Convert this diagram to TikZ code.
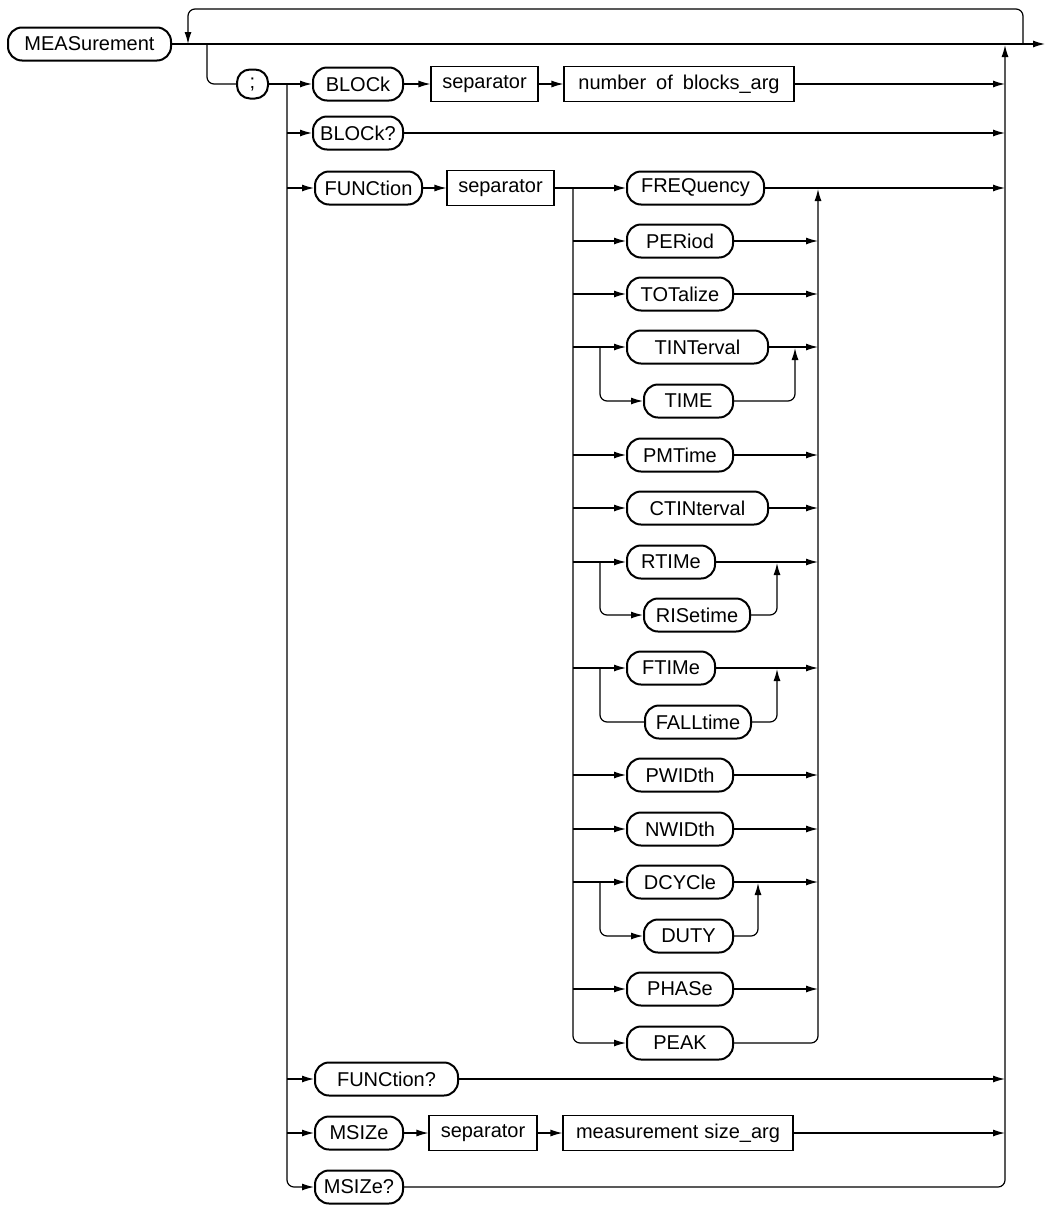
\documentclass[tikz,border=0pt]{standalone}
\usepackage{fontspec}
\setmainfont{Liberation Sans}
\usetikzlibrary{arrows.meta}
\begin{document}
\begin{tikzpicture}[x=1pt,y=-1pt,
  font=\fontsize{20}{22}\selectfont,
  rnd/.style={draw, line width=2pt, rounded corners=14pt, minimum height=33pt, inner sep=0pt},
  rct/.style={draw, line width=1.1pt, minimum height=35pt, inner sep=0pt},
  conn/.style={line width=1.2pt},
  arr/.style={conn, -{Latex[length=12pt,width=7pt]}},
  rc/.style={rounded corners=7pt}]
\useasboundingbox (0,0) rectangle (1046,1205);
% nodes
\node[rnd, minimum width=163pt] (MEAS) at (89.5,44) {MEASurement};
\node[rnd, minimum width=31pt, minimum height=29pt, rounded corners=13pt] (semi) at (252.5,84) {;};
\node[rnd, minimum width=90pt] (BLOCk) at (358,84) {BLOCk};
\node[rct, minimum width=107pt] (sep1) at (484.5,84) {separator};
\node[rct, minimum width=230pt] (arg1) at (679,84) {number\hspace{10pt}of\hspace{10pt}blocks\_arg};
\node[rnd, minimum width=90pt] (BLOCkq) at (358,133) {BLOCk?};
\node[rnd, minimum width=107pt] (FUNC) at (368.5,188) {FUNCtion};
\node[rct, minimum width=107pt] (sep2) at (500.5,188) {separator};
\node[rnd, minimum width=137pt] (FREQ) at (695.5,188) {FREQuency};
\node[rnd, minimum width=106pt] (PER) at (680,241) {PERiod};
\node[rnd, minimum width=106pt] (TOT) at (680,294) {TOTalize};
\node[rnd, minimum width=141pt] (TINT) at (697.5,347) {TINTerval};
\node[rnd, minimum width=89pt] (TIME) at (688.5,401) {TIME};
\node[rnd, minimum width=106pt] (PMT) at (680,455) {PMTime};
\node[rnd, minimum width=141pt] (CTIN) at (697.5,508) {CTINterval};
\node[rnd, minimum width=88pt] (RTIM) at (671,562) {RTIMe};
\node[rnd, minimum width=106pt] (RIS) at (697,615) {RISetime};
\node[rnd, minimum width=88pt] (FTIM) at (671,668) {FTIMe};
\node[rnd, minimum width=106pt] (FALL) at (698,722) {FALLtime};
\node[rnd, minimum width=106pt] (PWID) at (680,775) {PWIDth};
\node[rnd, minimum width=106pt] (NWID) at (680,829) {NWIDth};
\node[rnd, minimum width=106pt] (DCYC) at (680,882) {DCYCle};
\node[rnd, minimum width=89pt] (DUTY) at (688.5,936) {DUTY};
\node[rnd, minimum width=106pt] (PHAS) at (680,989) {PHASe};
\node[rnd, minimum width=106pt] (PEAK) at (680,1043) {PEAK};
\node[rnd, minimum width=143pt] (FUNCq) at (386.5,1079) {FUNCtion?};
\node[rnd, minimum width=88pt] (MSIZe) at (359,1133) {MSIZe};
\node[rct, minimum width=108pt] (sep3) at (483,1133) {separator};
\node[rct, minimum width=230pt] (arg2) at (678,1133) {measurement\hspace{6pt}size\_arg};
\node[rnd, minimum width=88pt] (MSIZeq) at (359,1187) {MSIZe?};
% coordinates
\coordinate (exit) at (1045,44);
\coordinate (loopR) at (1023,44);
\coordinate (loopL) at (188,44);
\coordinate (br) at (207,44);
\coordinate (Lv) at (287,84);
\coordinate (Rv) at (1005,45);
\coordinate (Fv) at (573,188);
\coordinate (Cv) at (818,189);
\coordinate (Tv) at (600,347);
\coordinate (Tm) at (795,348);
\coordinate (Rs) at (600,562);
\coordinate (Rm) at (777,563);
\coordinate (Fs) at (600,668);
\coordinate (Fm) at (777,669);
\coordinate (Ds) at (600,882);
\coordinate (Dm) at (758,883);
% main line and loop
\draw[arr] (MEAS.east) -- (exit);
\draw[arr, rc] (loopR) -- ++(0,-35) -| (loopL);
\draw[conn, rc] (br) |- (semi.west);
\draw[arr] (semi.east) -- (BLOCk.west);
\draw[arr] (BLOCk.east) -- (sep1.west);
\draw[arr] (sep1.east) -- (arg1.west);
% left vertical
\draw[arr, rc] (Lv) |- (MSIZeq.west);
\foreach \n in {BLOCkq,FUNC,FUNCq,MSIZe}
  \draw[arr] (\n.west -| Lv) -- (\n.west);
% right collector
\draw[arr, rc] (MSIZeq.east) -| (Rv);
\foreach \n in {arg1,BLOCkq,FREQ,FUNCq,arg2}
  \draw[arr] (\n.east) -- (\n.east -| Rv);
% MSIZe row
\draw[arr] (MSIZe.east) -- (sep3.west);
\draw[arr] (sep3.east) -- (arg2.west);
% function branch
\draw[arr] (FUNC.east) -- (sep2.west);
\draw[arr] (sep2.east) -- (FREQ.west);
\draw[arr, rc] (Fv) |- (PEAK.west);
\foreach \n in {PER,TOT,TINT,PMT,CTIN,RTIM,FTIM,PWID,NWID,DCYC,PHAS}
  \draw[arr] (\n.west -| Fv) -- (\n.west);
\draw[arr, rc] (PEAK.east) -| (Cv);
\foreach \n in {PER,TOT,TINT,PMT,CTIN,RTIM,FTIM,PWID,NWID,DCYC,PHAS}
  \draw[arr] (\n.east) -- (\n.east -| Cv);
% sub-branches
\draw[arr, rc] (Tv) |- (TIME.west);
\draw[arr, rc] (TIME.east) -| (Tm);
\draw[arr, rc] (Rs) |- (RIS.west);
\draw[arr, rc] (RIS.east) -| (Rm);
\draw[conn, rc] (Fs) |- (FALL.west);
\draw[arr, rc] (FALL.east) -| (Fm);
\draw[arr, rc] (Ds) |- (DUTY.west);
\draw[arr, rc] (DUTY.east) -| (Dm);
\end{tikzpicture}
\end{document}
